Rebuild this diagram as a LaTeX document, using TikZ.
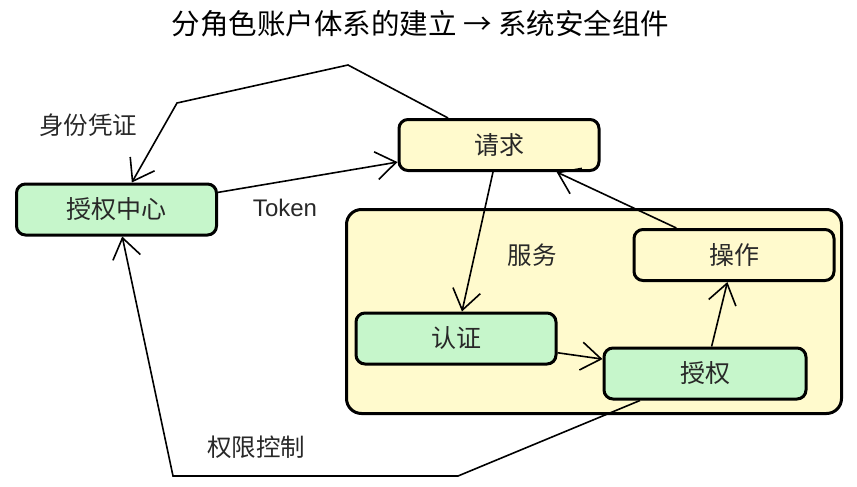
\documentclass[tikz,border=0pt]{standalone}
\usepackage{fontspec}
\setmainfont{Noto Sans CJK SC}
\newfontfamily\latinfont{Liberation Sans}
\usetikzlibrary{arrows.meta}
\definecolor{boxgreen}{RGB}{198,246,203}
\definecolor{boxyellow}{RGB}{255,250,205}
\definecolor{txtgray}{RGB}{40,40,40}
\begin{document}
\begin{tikzpicture}[x=1pt,y=-1pt,
  box/.style={draw=black, line width=3pt, rounded corners=9pt, minimum width=200pt, minimum height=51pt, inner sep=0pt, font=\fontsize{25}{25}\selectfont, text=txtgray},
  greenbox/.style={box, fill=boxgreen},
  yellowbox/.style={box, fill=boxyellow},
  lbl/.style={font=\fontsize{24.5}{24.5}\selectfont, text=txtgray, inner sep=0pt},
  conn/.style={line width=1.6pt, line join=miter, -{Straight Barb[length=20pt,width=28pt,line width=1.6pt]}},
]
\useasboundingbox (0,0) rectangle (857,487);

\node (title) at (420.5,24) {\fontsize{28.5}{28.5}\selectfont 分角色账户体系的建立 → 系统安全组件};

\node (svc) [draw=black, line width=3pt, fill=boxyellow, rounded corners=15pt, minimum width=495pt, minimum height=204pt, inner sep=0pt] at (594,311.5) {};
\node (svclbl) [lbl] at (532,255) {服务};

\node (ac) [greenbox] at (116.5,209.5) {授权中心};
\node (req) [yellowbox] at (499,145) {请求};
\node (op) [yellowbox] at (734,255) {操作};
\node (authn) [greenbox] at (456,338.5) {认证};
\node (authz) [greenbox, minimum width=202pt] at (705,373.5) {授权};

\node (lid) [lbl] at (88,125) {身份凭证};
\node (ltok) [lbl, font=\latinfont\fontsize{24}{24}\selectfont] at (285,208) {Token};
\node (lperm) [lbl] at (256,447) {权限控制};

\coordinate (t1) at (348,65);
\coordinate (t2) at (177,103);
\coordinate (b1) at (458,476);
\coordinate (b2) at (173,476);

\draw[conn] (req) -- (t1) -- (t2) -- (ac);
\draw[conn] (ac) -- (req);
\draw[conn] (req) -- (authn);
\draw[conn] (op) -- (req);
\draw[conn] (authn) -- (authz);
\draw[conn] (authz) -- (op);
\draw[conn] (authz) -- (b1) -- (b2) -- (ac);
\end{tikzpicture}
\end{document}
